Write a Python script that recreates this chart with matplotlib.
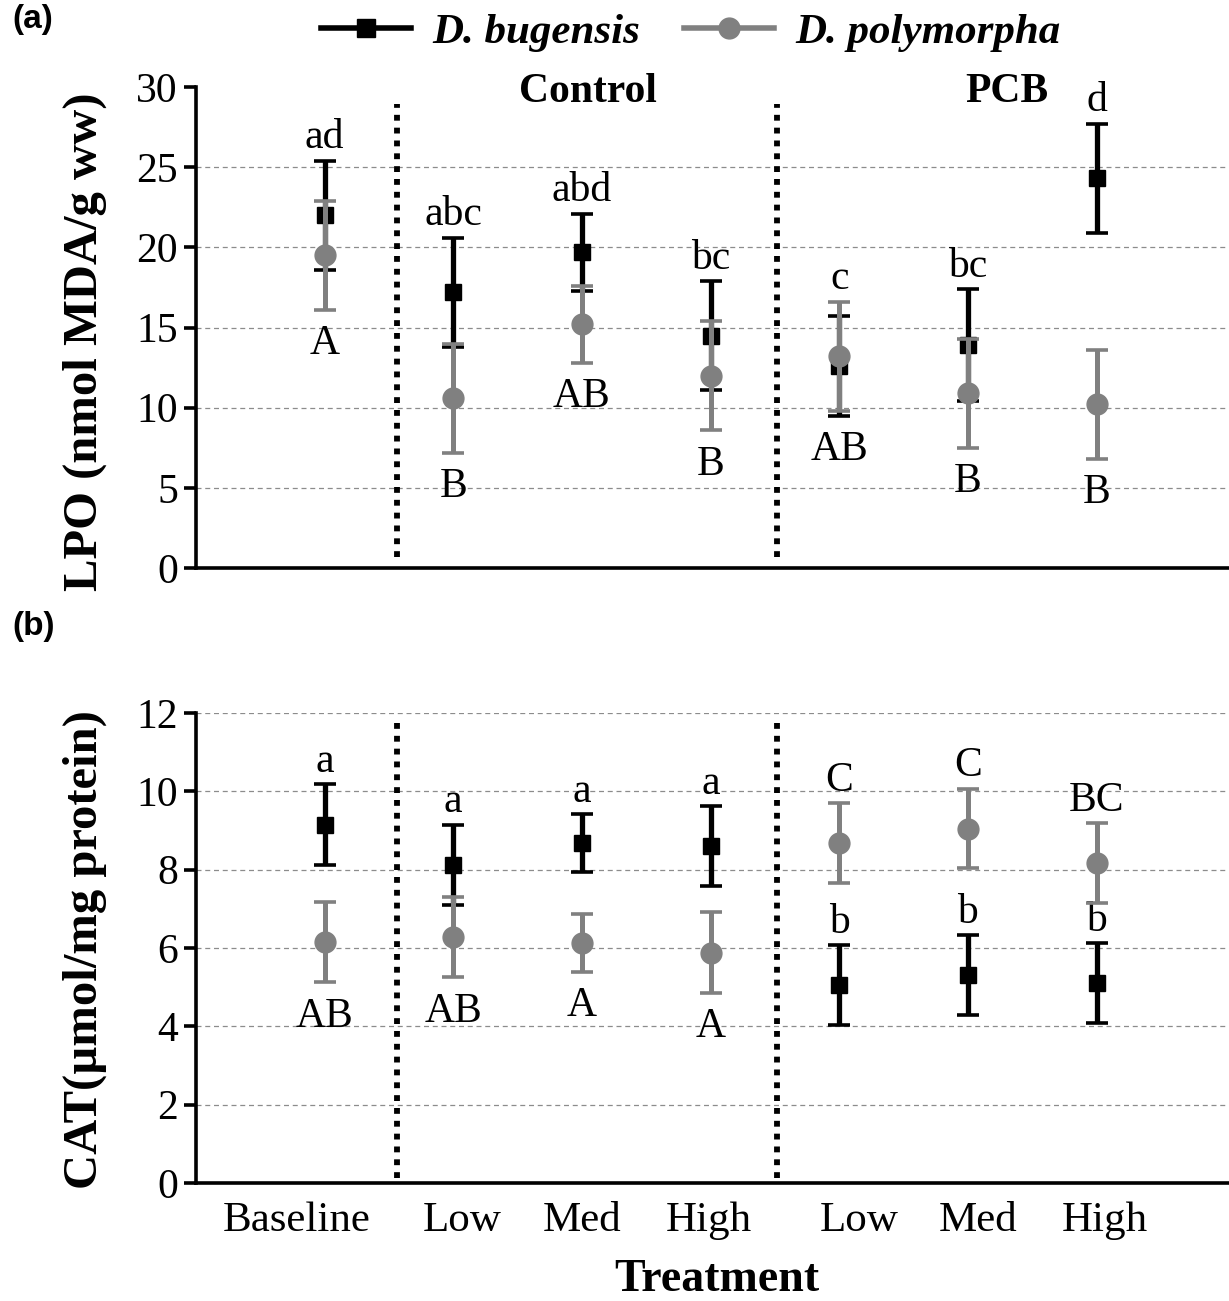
import matplotlib.pyplot as plt
from matplotlib.lines import Line2D
from matplotlib.transforms import ScaledTranslation
import numpy as np

# Treatment groups (Baseline, Control Low/Med/High, PCB Low/Med/High)
categories = ['Baseline', 'Low', 'Med', 'High', 'Low', 'Med', 'High']

# (a) LPO, nmol MDA/g ww
lpo_bug = [22.0, 17.2, 19.7, 14.5, 12.6, 13.9, 24.3]
lpo_bug_err = [3.4, 3.4, 2.4, 3.4, 3.1, 3.5, 3.4]
lpo_poly = [19.5, 10.6, 15.2, 12.0, 13.2, 10.9, 10.2]
lpo_poly_err = [3.4, 3.4, 2.4, 3.4, 3.4, 3.4, 3.4]
lpo_bug_letters = ['ad', 'abc', 'abd', 'bc', 'c', 'bc', 'd']
lpo_poly_letters = ['A', 'B', 'AB', 'B', 'AB', 'B', 'B']
lpo_poly_above = [False] * 7

# (b) CAT, umol/mg protein
cat_bug = [9.15, 8.12, 8.68, 8.6, 5.05, 5.3, 5.1]
cat_bug_err = [1.03, 1.02, 0.74, 1.02, 1.02, 1.02, 1.02]
cat_poly = [6.15, 6.28, 6.13, 5.88, 8.68, 9.05, 8.17]
cat_poly_err = [1.03, 1.03, 0.74, 1.03, 1.02, 1.02, 1.02]
cat_bug_letters = ['a', 'a', 'a', 'a', 'b', 'b', 'b']
cat_poly_letters = ['AB', 'AB', 'A', 'A', 'C', 'C', 'BC']
cat_poly_above = [False, False, False, False, True, True, True]

plt.rcParams['font.family'] = 'Liberation Serif'
GRAY = '#808080'
DOTS = (0, (1, 1.2))
x = np.arange(len(categories))


def anchor(m1, e1, m2, e2, up):
    """Where a letter sits: end of its own bar, or of both bars if they overlap."""
    lo1, hi1, lo2, hi2 = m1 - e1, m1 + e1, m2 - e2, m2 + e2
    overlap = lo2 < hi1 and lo1 < hi2
    if up:
        return max(hi1, hi2) if overlap else hi1
    return min(lo1, lo2) if overlap else lo1


def draw_panel(ax, bug, bug_err, poly, poly_err, bug_let, poly_let, poly_up):
    ax.errorbar(x, bug, yerr=bug_err, fmt='s', color='black', ms=11.5,
                elinewidth=3.8, capsize=8, capthick=2.6, zorder=3)
    ax.errorbar(x, poly, yerr=poly_err, fmt='o', color=GRAY, ms=15,
                elinewidth=3.6, capsize=8, capthick=2.6, zorder=4)
    for i in range(len(x)):
        y = anchor(bug[i], bug_err[i], poly[i], poly_err[i], True)
        ax.annotate(bug_let[i], (x[i], y), xytext=(0, 9), textcoords='offset points',
                    ha='center', va='baseline', fontsize=30)
        y = anchor(poly[i], poly_err[i], bug[i], bug_err[i], poly_up[i])
        off = 9 if poly_up[i] else -32
        ax.annotate(poly_let[i], (x[i], y), xytext=(0, off), textcoords='offset points',
                    ha='center', va='baseline', fontsize=30)

    ax.set_xlim(-1, 7.03)
    for s in ['top', 'right']:
        ax.spines[s].set_visible(False)
    for s in ['left', 'bottom']:
        ax.spines[s].set_linewidth(2.6)
    ax.tick_params(axis='y', direction='out', length=9, width=2.6, labelsize=30, pad=4)
    ax.tick_params(axis='x', length=0)
    ax.yaxis.grid(True, linestyle=(0, (4, 3)), color='#8c8c8c', linewidth=0.9)
    ax.set_axisbelow(True)


fig = plt.figure(figsize=(12.29, 13.01), dpi=100)
ax_a = fig.add_axes([0.1595, 0.5634, 0.8405, 0.3697])
ax_b = fig.add_axes([0.1595, 0.0907, 0.8405, 0.3613])

draw_panel(ax_a, lpo_bug, lpo_bug_err, lpo_poly, lpo_poly_err,
           lpo_bug_letters, lpo_poly_letters, lpo_poly_above)
ax_a.set_ylim(0, 30)
ax_a.set_yticks(range(0, 31, 5))
ax_a.set_xticks([])
ax_a.get_ygridlines()[-1].set_visible(False)
ax_a.text(2.05, 29.7, 'Control', ha='center', va='center', fontsize=30, fontweight='bold')
ax_a.text(5.3, 29.7, 'PCB', ha='center', va='center', fontsize=30, fontweight='bold')
for xv in [0.56, 3.52]:
    ax_a.axvline(xv, ymin=0.022, ymax=0.965, color='black', lw=4.2, linestyle=DOTS)

draw_panel(ax_b, cat_bug, cat_bug_err, cat_poly, cat_poly_err,
           cat_bug_letters, cat_poly_letters, cat_poly_above)
ax_b.set_ylim(0, 12)
ax_b.set_yticks(range(0, 13, 2))
ax_b.set_xticks(x)
ax_b.set_xticklabels(categories, fontsize=31)
ax_b.tick_params(axis='x', pad=13)
# labels in the original sit slightly off the point columns
nudges = [-28, 9, 0, -2, 20, 10, 8]
for lab, dx in zip(ax_b.get_xticklabels(), nudges):
    lab.set_transform(lab.get_transform() + ScaledTranslation(dx / 100, 0, fig.dpi_scale_trans))
for xv in [0.56, 3.52]:
    ax_b.axvline(xv, ymin=0.01, ymax=0.99, color='black', lw=4.2, linestyle=DOTS)

fig.text(0.069, 0.737, 'LPO (nmol MDA/g ww)', rotation=90, ha='center', va='center',
         fontsize=35, fontweight='bold')
fig.text(0.069, 0.270, 'CAT(\u00b5mol/mg protein)', rotation=90, ha='center', va='center',
         fontsize=35, fontweight='bold')
fig.text(0.583, 0.016, 'Treatment', ha='center', va='center', fontsize=33, fontweight='bold')

fig.text(0.010, 0.997, '(a)', ha='left', va='top', fontsize=24, fontweight='bold',
         family='Liberation Sans')
fig.text(0.010, 0.530, '(b)', ha='left', va='top', fontsize=24, fontweight='bold',
         family='Liberation Sans')

handles = [Line2D([], [], color='black', marker='s', lw=4, ms=13),
           Line2D([], [], color=GRAY, marker='o', lw=4, ms=15)]
fig.legend(handles, ['D. bugensis', 'D. polymorpha'], loc='center',
           bbox_to_anchor=(0.562, 0.975), ncol=2, frameon=False,
           prop=dict(family='Liberation Serif', weight='bold', style='italic', size=31),
           handlelength=2.1, handletextpad=0.5, columnspacing=1.0)

fig.savefig('out.png', dpi=100)
